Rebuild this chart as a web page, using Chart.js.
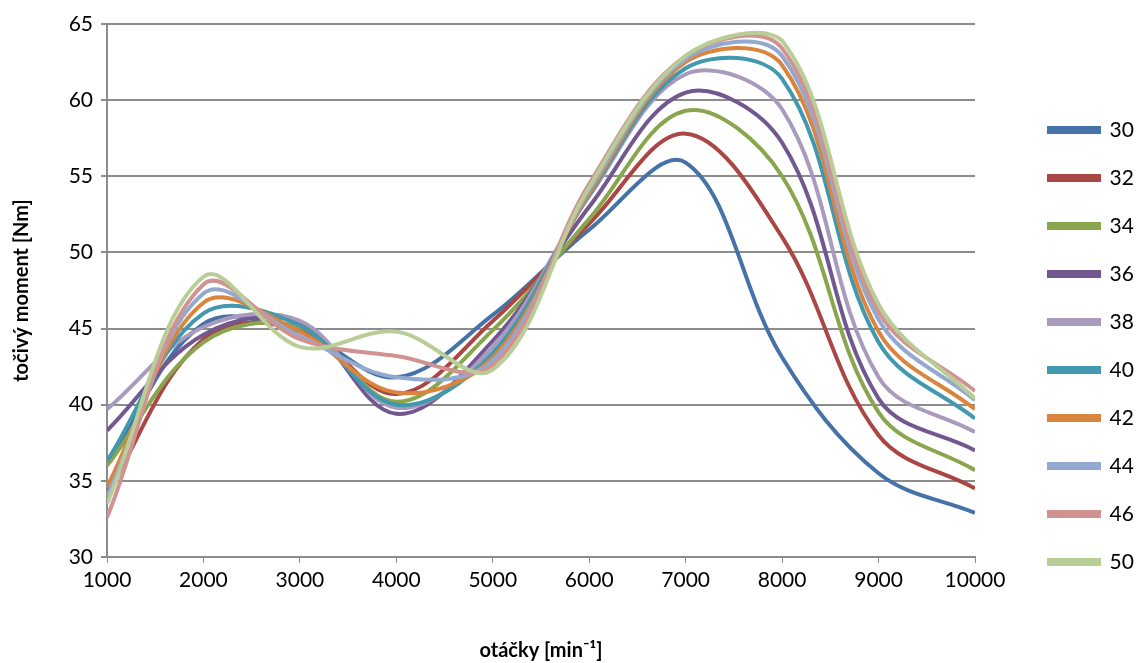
<!DOCTYPE html>
<html>
<head>
<meta charset="utf-8">
<script src="https://cdn.jsdelivr.net/npm/chart.js@4/dist/chart.umd.min.js"></script>
<style>
  html, body { margin: 0; padding: 0; background: #fff; }
</style>
</head>
<body>
<canvas id="torqueChart" width="1136" height="663"></canvas>
<script>
// rpm points
const rpm = [1000, 2000, 3000, 4000, 5000, 6000, 7000, 8000, 9000, 10000];
const seriesNames = ["30", "32", "34", "36", "38", "40", "42", "44", "46", "50"];

// torque [Nm] per series
const t30 = [36.2, 45.3, 44.8, 41.8, 45.9, 51.5, 55.9, 43.1, 35.5, 32.9];
const t32 = [34.2, 44.3, 45.0, 40.7, 45.5, 51.9, 57.8, 51.0, 38.0, 34.5];
const t34 = [36.0, 44.1, 45.1, 40.2, 44.9, 52.2, 59.3, 55.0, 39.5, 35.7];
const t36 = [38.3, 44.6, 45.4, 39.4, 44.2, 53.0, 60.5, 57.2, 40.4, 37.0];
const t38 = [39.7, 45.1, 45.5, 39.8, 43.8, 53.7, 61.7, 59.4, 41.8, 38.2];
const t40 = [36.3, 46.0, 45.2, 40.0, 43.4, 53.8, 62.1, 61.4, 44.1, 39.1];
const t42 = [34.6, 46.7, 44.8, 40.8, 43.1, 53.9, 62.5, 62.3, 44.8, 39.7];
const t44 = [34.0, 47.3, 44.5, 41.8, 42.9, 54.1, 62.7, 62.9, 45.6, 40.3];
const t46 = [32.6, 47.9, 44.3, 43.2, 42.6, 54.5, 62.9, 63.4, 46.1, 40.9];
const t50 = [33.5, 48.4, 43.8, 44.8, 42.3, 54.3, 62.9, 63.9, 46.6, 40.4];

const allSeries = [t30, t32, t34, t36, t38, t40, t42, t44, t46, t50];
const colors = ["#4572A7", "#AA4643", "#89A54E", "#71588F", "#A99BBD",
                "#4198AF", "#DB843D", "#93A9CF", "#D19392", "#B9CD96"];

const yTicks = [30, 35, 40, 45, 50, 55, 60, 65];

const FONT = "Lato, 'Open Sans', sans-serif";
const gridGray = "#8c8c8c";

const datasets = allSeries.map((vals, i) => ({
  label: seriesNames[i],
  data: vals.map((v, k) => ({ x: rpm[k], y: v })),
  borderColor: colors[i],
  backgroundColor: colors[i],
  borderWidth: 4,
  pointRadius: 0,
  tension: 0.36,
  order: allSeries.length - i, // last series drawn on top, like the original
  yAxisID: "y"
}));

const ctx = document.getElementById("torqueChart").getContext("2d");
new Chart(ctx, {
  type: "line",
  data: { datasets: datasets },
  options: {
    responsive: false,
    animation: false,
    layout: { padding: { top: 24, left: 0, right: 0, bottom: 0 } },
    plugins: {
      tooltip: { enabled: false },
      legend: {
        display: true,
        position: "right",
        maxWidth: 114,
        title: { display: true, text: " ", font: { size: 4 }, padding: 0 },
        labels: {
          boxWidth: 50,
          boxHeight: 4,
          padding: 27,
          color: "#000",
          font: { family: FONT, size: 21 },
          sort: (a, b) => a.datasetIndex - b.datasetIndex
        }
      }
    },
    scales: {
      x: {
        type: "linear",
        min: 1000,
        max: 10000,
        afterFit: (s) => { s.height = 106; },
        ticks: {
          stepSize: 1000,
          color: "#000",
          padding: 5,
          maxRotation: 0,
          font: { family: FONT, size: 21 },
          callback: (v) => String(v)
        },
        grid: { drawOnChartArea: false, drawTicks: true, tickLength: 6, color: gridGray, lineWidth: 1 },
        border: { display: true, color: gridGray, width: 2 },
        title: {
          display: true,
          text: "otáčky [min⁻¹]",
          color: "#000",
          font: { family: FONT, size: 20, weight: "bold" },
          padding: { top: 0, bottom: 0 }
        }
      },
      y: {
        type: "linear",
        position: "left",
        min: 30,
        max: 65,
        afterFit: (s) => { s.width = 107; },
        afterBuildTicks: (s) => { s.ticks = yTicks.map((v) => ({ value: v })); },
        ticks: {
          color: "#000",
          padding: 8,
          font: { family: FONT, size: 21 }
        },
        grid: { color: gridGray, lineWidth: 2, tickLength: 6 },
        border: { display: true, color: gridGray, width: 2 },
        title: {
          display: true,
          text: "točivý moment [Nm]",
          color: "#000",
          font: { family: FONT, size: 20, weight: "bold" },
          padding: { top: 10, bottom: 0 }
        }
      },
      // empty right axis: only keeps the gap between plot and legend
      gap: {
        type: "linear",
        position: "right",
        display: true,
        afterFit: (s) => { s.width = 47; },
        ticks: { display: false },
        grid: { display: false },
        border: { display: false }
      }
    }
  }
});
</script>
</body>
</html>
